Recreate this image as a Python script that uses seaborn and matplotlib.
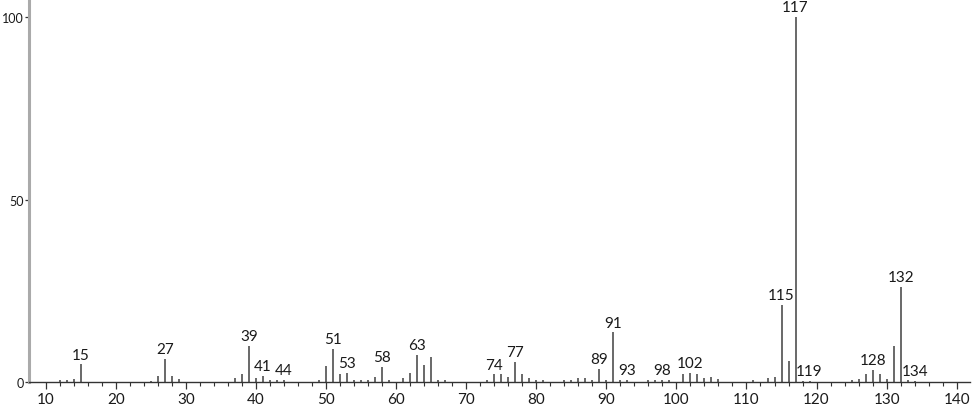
import numpy as np
import pandas as pd
import seaborn as sns
import matplotlib.pyplot as plt

# mass spectrum: m/z and relative intensity (%)
mz = [12, 13, 14, 15, 25, 26, 27, 28, 29, 37, 38, 39, 40, 41, 42, 43, 44,
      49, 50, 51, 52, 53, 54, 55, 56, 57, 58, 59, 61, 62, 63, 64, 65, 66, 67,
      73, 74, 75, 76, 77, 78, 79, 80, 81, 84, 85, 86, 87, 88, 89, 90, 91, 92,
      93, 96, 97, 98, 99, 101, 102, 103, 104, 105, 106, 111, 113, 114, 115,
      116, 117, 118, 119, 125, 126, 127, 128, 129, 130, 131, 132, 133, 134]
intensity = [0.5, 0.5, 0.8, 4.8, 0.3, 1.7, 6.3, 1.6, 0.8, 1.0, 2.2, 10.0, 1.1,
             1.7, 0.5, 0.5, 0.5, 0.6, 4.4, 9.0, 2.2, 2.4, 0.5, 0.5, 0.5, 1.5,
             4.1, 0.5, 1.1, 2.6, 7.4, 4.7, 6.8, 0.5, 0.5, 0.5, 2.1, 2.1, 1.5,
             5.6, 2.2, 1.1, 0.5, 0.5, 0.5, 0.6, 1.1, 1.1, 0.5, 3.6, 0.5, 13.6,
             0.5, 0.5, 0.5, 0.5, 0.5, 0.5, 2.1, 2.4, 2.2, 1.1, 1.5, 0.7, 0.5,
             1.2, 1.5, 21.1, 5.8, 100.0, 0.3, 0.3, 0.5, 0.9, 2.3, 3.4, 2.2,
             0.7, 9.9, 26.0, 0.5, 0.3]
labelled = [15, 27, 39, 41, 44, 51, 53, 58, 63, 74, 77, 89, 91, 93, 98, 102,
            115, 117, 119, 128, 132, 134]
x_ticks = [10, 20, 30, 40, 50, 60, 70, 80, 90, 100, 110, 120, 130, 140]
y_ticks = [0, 50, 100]

df = pd.DataFrame({'mz': mz, 'intensity': intensity})

sns.set_style('white')
plt.rcParams['font.family'] = ['Lato', 'DejaVu Sans']

fig = plt.figure(figsize=(9.74, 4.06), dpi=100)
ax = fig.add_axes([29 / 974, 23 / 406, 941 / 974, 383 / 406])

ax.vlines(df['mz'], 0, df['intensity'], color='#404040', linewidth=1.1)

for m, h in zip(df['mz'], df['intensity']):
    if m in labelled:
        ax.annotate(str(m), (m, h), xytext=(0, 2), textcoords='offset points',
                    ha='center', va='bottom', fontsize=11, color='#1a1a1a')

ax.set_xlim(7.6, 141.9)
ax.set_ylim(0, 105)
ax.set_xticks(x_ticks)
ax.set_xticks(np.arange(12, 142, 2), minor=True)
ax.set_yticks(y_ticks)

sns.despine(ax=ax, top=True, right=True)
ax.spines['left'].set_color('#aaaaaa')
ax.spines['left'].set_linewidth(2.2)
ax.spines['bottom'].set_color('#333333')
ax.spines['bottom'].set_linewidth(1.0)

ax.tick_params(axis='x', which='major', direction='out', length=5, width=0.9,
               color='#333333', labelsize=11, labelcolor='#1a1a1a', pad=2,
               bottom=True)
ax.tick_params(axis='x', which='minor', direction='out', length=3, width=0.8,
               color='#333333', bottom=True)
ax.tick_params(axis='y', which='major', direction='out', length=3, width=0.9,
               color='#333333', labelsize=9, labelcolor='#1a1a1a', pad=0.5,
               left=True)

ax.set_xlabel('')
ax.set_ylabel('')
ax.grid(False)

fig.savefig('out.png', dpi=100)
